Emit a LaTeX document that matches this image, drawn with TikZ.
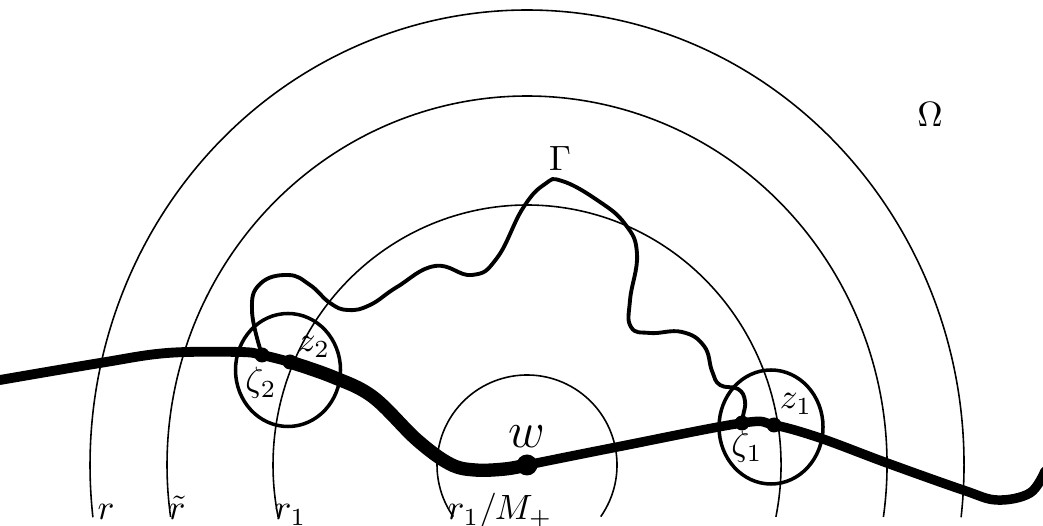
\documentclass[tikz,border=0pt]{standalone}
\begin{document}
\begin{tikzpicture}[
    level/.style={line width=0.45pt},
    boundary/.style={line width=2.8pt, line cap=round},
    path/.style={line width=1.1pt},
    disc/.style={line width=1pt},
    dot/.style={circle, fill, inner sep=0pt, minimum size=0.15cm},
    bigdot/.style={circle, fill, inner sep=0pt, minimum size=0.21cm},
    lbl/.style={inner sep=0pt, anchor=base west}
]
    \useasboundingbox (0,0) rectangle (10.43,5.26);

    % centre and the level curves
    \coordinate (c) at (5.27,0.61);
    \draw[level] (c) ++(-6.6:4.37 and 4.55) arc[start angle=-6.6, end angle=186.6, x radius=4.37, y radius=4.55];
    \draw[level] (c) ++(-8.1:3.60 and 3.69) arc[start angle=-8.1, end angle=188.1, x radius=3.60, y radius=3.69];
    \draw[level] (c) ++(-11.5:2.54 and 2.60) arc[start angle=-11.5, end angle=191.5, x radius=2.54, y radius=2.60];
    \draw[level] (c) ++(-35:0.90) arc[start angle=-35, end angle=215, radius=0.90];

    % points on the boundary
    \coordinate (zeta2) at (2.62,1.71);
    \coordinate (z2) at (2.90,1.64);
    \coordinate (zeta1) at (7.42,1.03);
    \coordinate (z1) at (7.74,1.01);

    % small discs
    \draw[disc] (2.88,1.56) ellipse[x radius=0.525, y radius=0.565];
    \draw[disc] (7.71,0.99) ellipse[x radius=0.52, y radius=0.57];

    % boundary
    \draw[boundary] plot[smooth, tension=0.6] coordinates {
        (0.0,1.46) (1.00,1.63) (1.67,1.73) (2.40,1.74) (zeta2) (z2)};
    \draw[boundary, line width=3.8pt] plot[smooth, tension=0.6] coordinates {
        (z2) (3.33,1.49) (3.73,1.29) (4.17,0.86) (4.50,0.62) (4.75,0.56)
        (5.05,0.57) (c)};
    \draw[boundary, line width=2.7pt] plot[smooth, tension=0.6] coordinates {
        (c) (6.17,0.79) (zeta1) (z1) (8.20,0.88) (8.87,0.63) (9.63,0.36)
        (9.97,0.26) (10.30,0.33) (10.45,0.55)};

    % the curve Gamma
    \draw[path] plot[smooth, tension=0.75] coordinates {
        (zeta2) (2.52,2.15) (2.60,2.42) (2.88,2.51) (3.10,2.41) (3.30,2.23)
        (3.48,2.16) (3.70,2.21) (3.97,2.39) (4.35,2.60) (4.72,2.51)
        (4.97,2.68) (5.23,3.18) (5.45,3.42) (5.62,3.45) (5.97,3.26) (6.25,3.02)
        (6.37,2.72) (6.30,2.26) (6.31,1.99) (6.50,1.93) (6.82,1.94) (7.04,1.80)
        (7.12,1.55) (7.20,1.41) (7.38,1.37) (7.45,1.25) (7.43,1.10) (zeta1)};

    % dots
    \node[bigdot] (w) at (c) {};
    \node[dot] (d-zeta2) at (zeta2) {};
    \node[dot] (d-z2) at (z2) {};
    \node[dot] (d-zeta1) at (zeta1) {};
    \node[dot] (d-z1) at (z1) {};

    % labels
    \node (l-w) at (5.27,0.89) {\Large$w$};
    \node (l-z2) at (3.14,1.79) {$z_2$};
    \node (l-zeta2) at (2.61,1.43) {$\zeta_2$};
    \node (l-z1) at (7.96,1.22) {$z_1$};
    \node (l-zeta1) at (7.47,0.79) {$\zeta_1$};
    \node (l-gamma) at (5.60,3.67) {$\Gamma$};
    \node (l-omega) at (9.30,4.11) {$\Omega$};
    \node[lbl] (l-r) at (0.97,0.06) {$r$};
    \node[lbl] (l-rt) at (1.68,0.06) {$\tilde r$};
    \node[lbl] (l-r1) at (2.74,0.06) {$r_1$};
    \node[lbl] (l-rm) at (4.47,0.06) {$r_1/M_+$};
\end{tikzpicture}
\end{document}
